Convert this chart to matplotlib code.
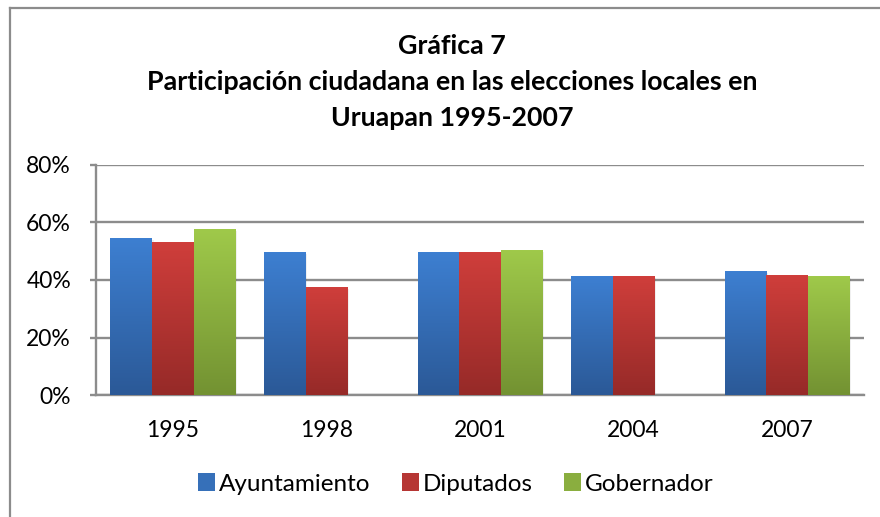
import numpy as np
import matplotlib
matplotlib.use("Agg")
from matplotlib import pyplot as plt
from matplotlib.colors import LinearSegmentedColormap
from matplotlib.patches import Patch
from matplotlib.lines import Line2D

plt.rcParams['font.family'] = ['Lato', 'DejaVu Sans']

years = ['1995', '1998', '2001', '2004', '2007']
series = ['Ayuntamiento', 'Diputados', 'Gobernador']
ayuntamiento = [54.4, 49.4, 49.7, 41.2, 42.8]
diputados = [52.9, 37.3, 49.7, 41.2, 41.4]
gobernador = [57.5, np.nan, 50.2, np.nan, 41.2]
values = [ayuntamiento, diputados, gobernador]

# (color arriba, color abajo) para el degradado
grad = [('#3d7fd1', '#2b5997'),
        ('#cf3e3b', '#962a28'),
        ('#9fc94a', '#739232')]
mid = ['#3670b9', '#b63634', '#8aae3f']

fig = plt.figure(figsize=(8.8, 5.17), dpi=100)
W, H = 880, 517
ax = fig.add_axes([96 / W, 1 - 395 / H, (864 - 96) / W, (395 - 165) / H])

x = np.arange(len(years))
bw = 0.271
for i, (vals, (c_top, c_bot)) in enumerate(zip(values, grad)):
    cmap = LinearSegmentedColormap.from_list('g%d' % i, [c_bot, c_top])
    for xi, v in zip(x, vals):
        if np.isnan(v):
            continue
        x0 = xi + (i - 1) * bw - bw / 2
        # sombra suave
        ax.bar(x0 + bw / 2 + 0.012, v, bw, bottom=-0.4, color='#000000', alpha=0.06, zorder=2)
        ax.imshow(np.linspace(0, 1, 100).reshape(-1, 1)[::-1], cmap=cmap, aspect='auto',
                  extent=(x0, x0 + bw, 0, v), zorder=3)

ax.set_xlim(-0.5, len(years) - 0.5)
ax.set_ylim(0, 80)
ax.set_yticks([0, 20, 40, 60, 80])
ax.set_yticklabels(['0%', '20%', '40%', '60%', '80%'])
ax.set_xticks(x)
ax.set_xticklabels(years)
ax.yaxis.grid(True, color='#8c8c8c', linewidth=1.7, zorder=1)
ax.set_axisbelow(True)
for s in ['top', 'right']:
    ax.spines[s].set_visible(False)
for s in ['left', 'bottom']:
    ax.spines[s].set_color('#8c8c8c')
    ax.spines[s].set_linewidth(1.7)
ax.tick_params(axis='y', length=4, width=1.7, color='#8c8c8c', labelsize=16.5, pad=14)
ax.tick_params(axis='x', length=0, labelsize=16.5, pad=18)

fig.text(0.5 + 12 / W, 1 - 82 / H, 'Gráfica 7\nParticipación ciudadana en las elecciones locales en\nUruapan 1995-2007',
         ha='center', va='center', fontsize=19.3, fontweight='bold', linespacing=1.58)

handles = [Patch(facecolor=c, edgecolor='none') for c in mid]
fig.legend(handles, series, loc='center', bbox_to_anchor=(0.5 + 16 / W, 1 - 484 / H), ncol=3,
           frameon=False, fontsize=17.5, handlelength=0.7, handleheight=0.7,
           handletextpad=0.15, columnspacing=1.3)

# marco exterior del gráfico
fig.add_artist(Line2D([10 / W, 10 / W], [0, 1 - 8 / H], color='#8c8c8c', linewidth=1.6))
fig.add_artist(Line2D([10 / W, 1], [1 - 8 / H, 1 - 8 / H], color='#8c8c8c', linewidth=1.6))

fig.savefig('out.png', dpi=100)
